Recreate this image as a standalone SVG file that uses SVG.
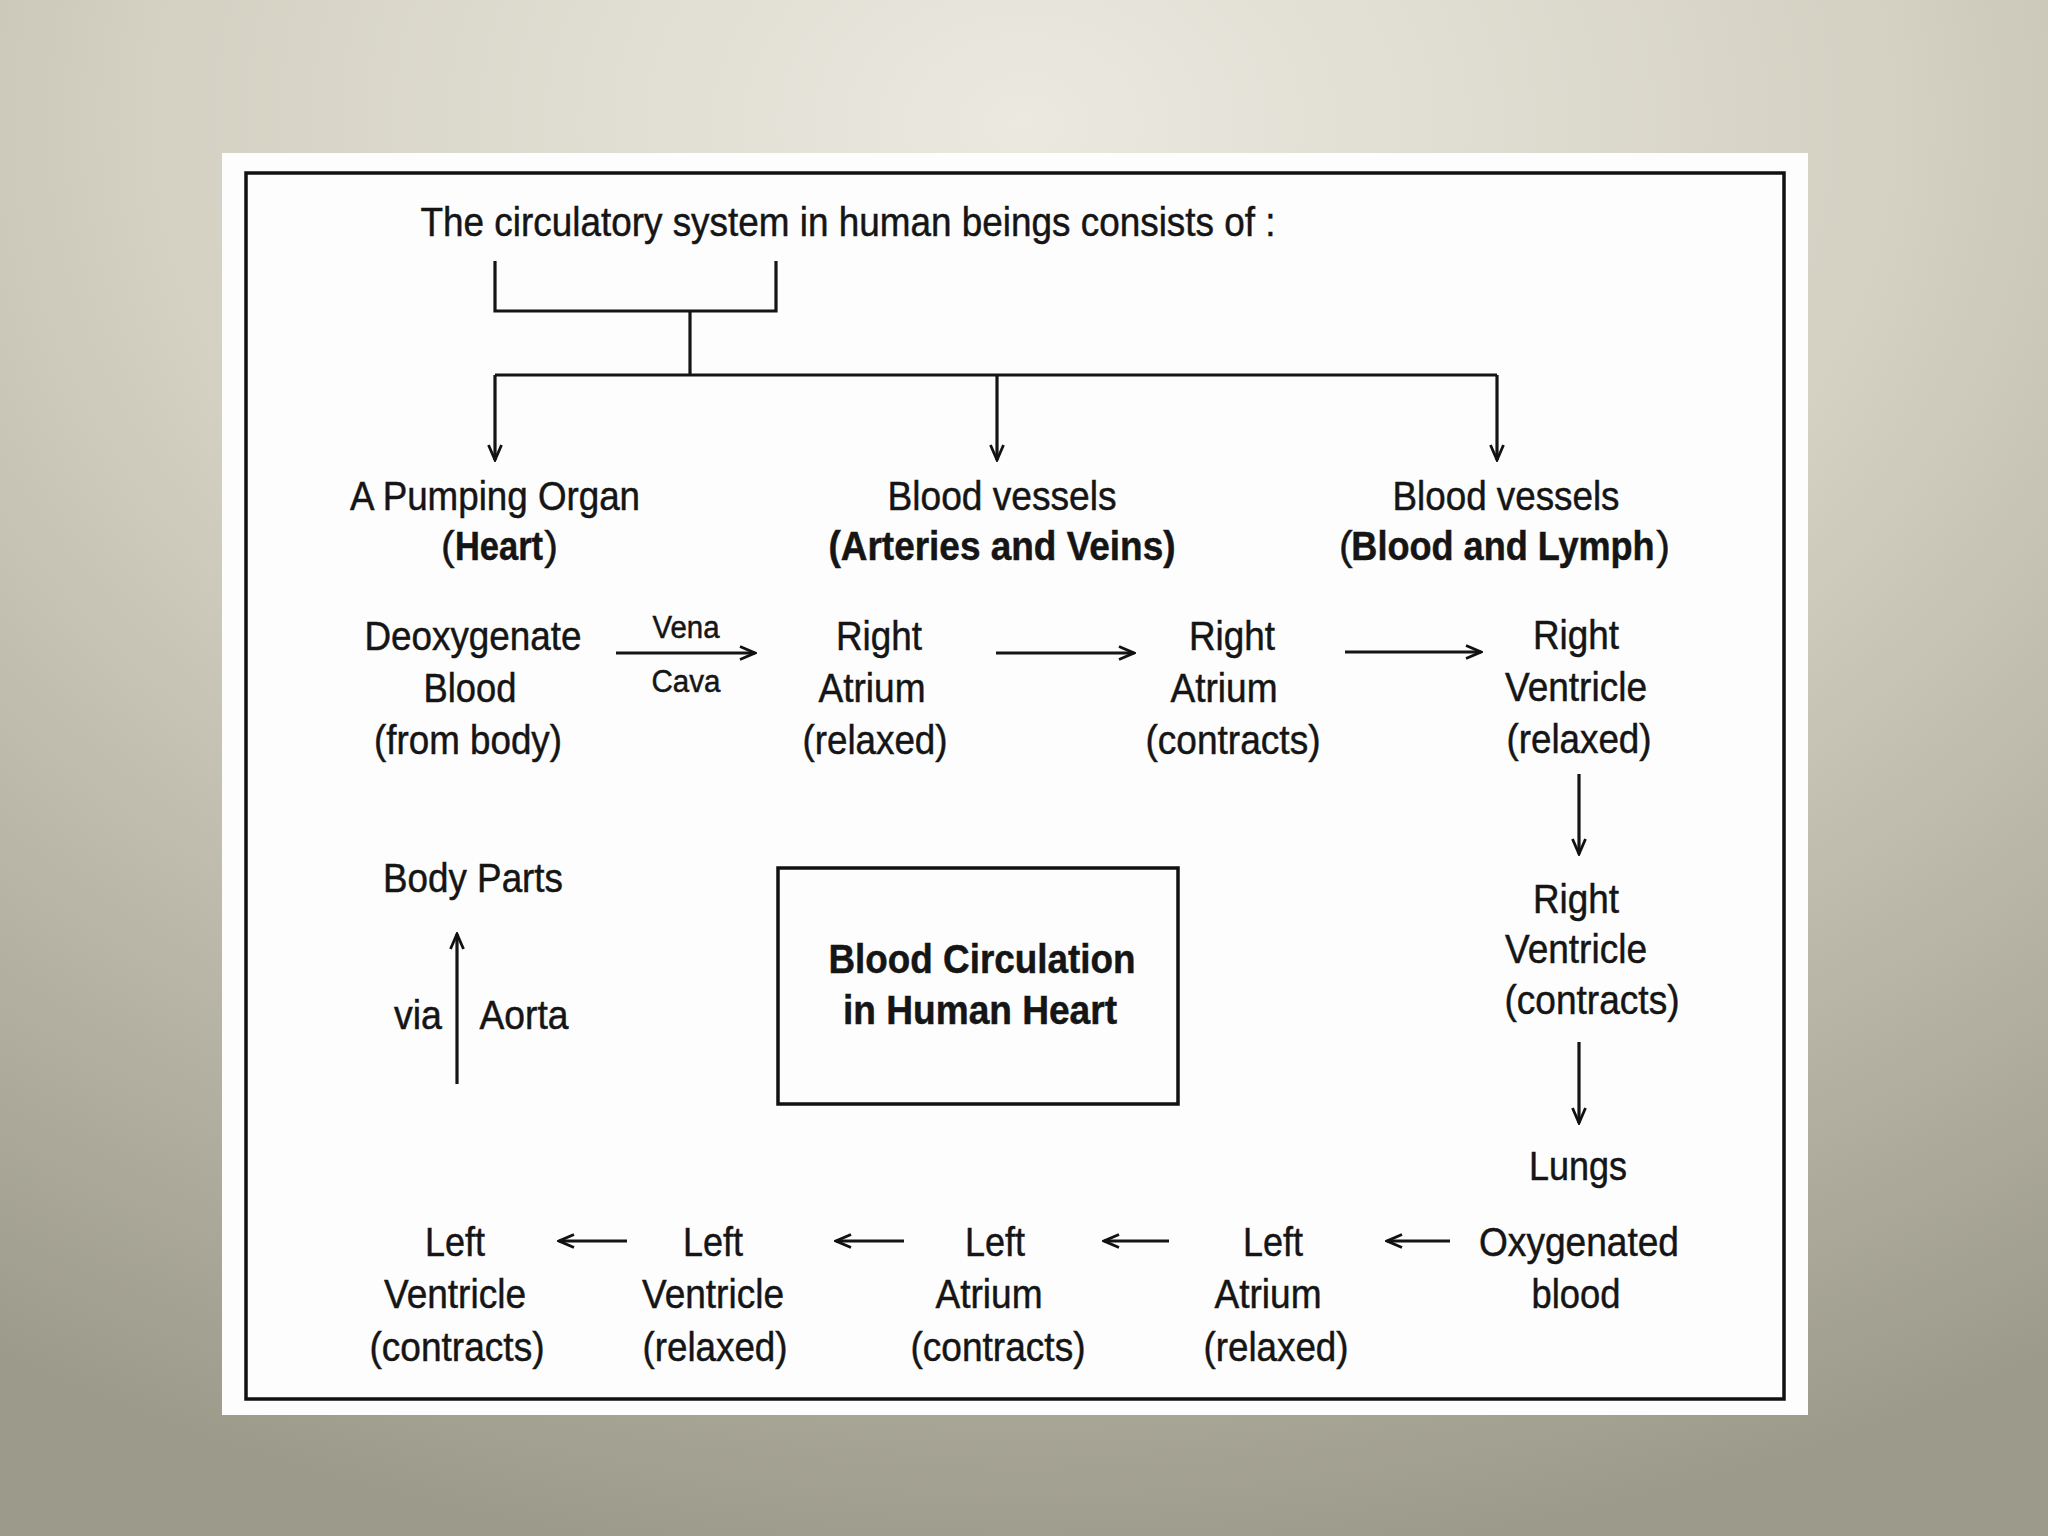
<svg xmlns="http://www.w3.org/2000/svg" width="2048" height="1536" viewBox="0 0 2048 1536">
<defs>
<radialGradient id="bg" cx="50%" cy="8%" r="95%" fx="50%" fy="8%">
<stop offset="0" stop-color="#ebe9e0"/>
<stop offset="0.45" stop-color="#d4d1c3"/>
<stop offset="1" stop-color="#9c9a8b"/>
</radialGradient>
<marker id="ah" markerWidth="18" markerHeight="16" refX="16" refY="8" orient="auto" markerUnits="userSpaceOnUse">
<path d="M1,1.5 L16,8 L1,14.5" fill="none" stroke="#111" stroke-width="2.8"/>
</marker>
<style>
text{font-family:"Liberation Sans",Arial,sans-serif;font-size:41px;fill:#151515;stroke:#151515;stroke-width:0.5;text-anchor:middle}
.b{font-weight:bold}
.st{text-anchor:start}
.en{text-anchor:end}
.sm{font-size:31px}
.ln{stroke:#151515;stroke-width:3.2;fill:none}
.ar{stroke:#151515;stroke-width:3.2;fill:none;marker-end:url(#ah)}
</style>
</defs>
<rect width="2048" height="1536" fill="url(#bg)"/>
<rect x="222" y="153" width="1586" height="1262" fill="#fdfdfd"/>
<rect x="246" y="173" width="1538" height="1226" fill="none" stroke="#111" stroke-width="3.5"/>

<g id="connectors">
<path class="ln" d="M495,261 V311 H776 V261"/>
<path class="ln" d="M690,311 V375"/>
<path class="ln" d="M495,375 H1497"/>
<path class="ar" d="M495,375 V460"/>
<path class="ar" d="M997,375 V460"/>
<path class="ar" d="M1497,375 V460"/>
<path class="ar" d="M616,653 H755"/>
<path class="ar" d="M996,653 H1134"/>
<path class="ar" d="M1345,652 H1481"/>
<path class="ar" d="M1579,774 V854"/>
<path class="ar" d="M1579,1042 V1123"/>
<path class="ar" d="M1450,1241 H1387"/>
<path class="ar" d="M1169,1241 H1104"/>
<path class="ar" d="M904,1241 H836"/>
<path class="ar" d="M627,1241 H559"/>
<path class="ar" d="M457,1084 V934"/>
</g>

<g id="title"><text x="848" y="236" textLength="855" lengthAdjust="spacingAndGlyphs">The circulatory system in human beings consists of :</text></g>

<g id="pumping-organ">
<text x="495" y="510" textLength="290" lengthAdjust="spacingAndGlyphs">A Pumping Organ</text>
<text x="441" y="560" class="st">(</text>
<text transform="translate(499,560) scale(0.84,1)" x="0" y="0" class="b">Heart</text>
<text x="558" y="560" class="en">)</text>
</g>
<g id="arteries-veins">
<text x="1002" y="510" textLength="229" lengthAdjust="spacingAndGlyphs">Blood vessels</text>
<text x="1002" y="560" class="b" textLength="347" lengthAdjust="spacingAndGlyphs">(Arteries and Veins)</text>
</g>
<g id="blood-lymph">
<text x="1506" y="510" textLength="227" lengthAdjust="spacingAndGlyphs">Blood vessels</text>
<text x="1339" y="560" class="st">(</text>
<text transform="translate(1503,560) scale(0.88,1)" x="0" y="0" class="b">Blood and Lymph</text>
<text x="1670" y="560" class="en">)</text>
</g>

<g id="deoxygenated-blood">
<text x="473" y="650" textLength="217" lengthAdjust="spacingAndGlyphs">Deoxygenate</text>
<text x="470" y="702" textLength="93" lengthAdjust="spacingAndGlyphs">Blood</text>
<text x="468" y="754" textLength="188" lengthAdjust="spacingAndGlyphs">(from body)</text>
</g>
<g id="vena-cava-label">
<text x="686" y="638" class="sm" textLength="67" lengthAdjust="spacingAndGlyphs">Vena</text>
<text x="686" y="692" class="sm" textLength="69" lengthAdjust="spacingAndGlyphs">Cava</text>
</g>
<g id="right-atrium-relaxed">
<text x="879" y="650" textLength="86" lengthAdjust="spacingAndGlyphs">Right</text>
<text x="872" y="702" textLength="107" lengthAdjust="spacingAndGlyphs">Atrium</text>
<text x="875" y="754" textLength="145" lengthAdjust="spacingAndGlyphs">(relaxed)</text>
</g>
<g id="right-atrium-contracts">
<text x="1232" y="650" textLength="86" lengthAdjust="spacingAndGlyphs">Right</text>
<text x="1224" y="702" textLength="107" lengthAdjust="spacingAndGlyphs">Atrium</text>
<text x="1233" y="754" textLength="175" lengthAdjust="spacingAndGlyphs">(contracts)</text>
</g>
<g id="right-ventricle-relaxed">
<text x="1576" y="649" textLength="86" lengthAdjust="spacingAndGlyphs">Right</text>
<text x="1576" y="701" textLength="142" lengthAdjust="spacingAndGlyphs">Ventricle</text>
<text x="1579" y="753" textLength="145" lengthAdjust="spacingAndGlyphs">(relaxed)</text>
</g>
<g id="right-ventricle-contracts">
<text x="1576" y="913" textLength="86" lengthAdjust="spacingAndGlyphs">Right</text>
<text x="1576" y="963" textLength="142" lengthAdjust="spacingAndGlyphs">Ventricle</text>
<text x="1592" y="1014" textLength="175" lengthAdjust="spacingAndGlyphs">(contracts)</text>
</g>
<g id="lungs">
<text x="1578" y="1180" textLength="98" lengthAdjust="spacingAndGlyphs">Lungs</text>
</g>
<g id="oxygenated-blood">
<text x="1579" y="1256" textLength="200" lengthAdjust="spacingAndGlyphs">Oxygenated</text>
<text x="1576" y="1308" textLength="89" lengthAdjust="spacingAndGlyphs">blood</text>
</g>
<g id="left-atrium-relaxed">
<text x="1273" y="1256" textLength="60" lengthAdjust="spacingAndGlyphs">Left</text>
<text x="1268" y="1308" textLength="107" lengthAdjust="spacingAndGlyphs">Atrium</text>
<text x="1276" y="1361" textLength="145" lengthAdjust="spacingAndGlyphs">(relaxed)</text>
</g>
<g id="left-atrium-contracts">
<text x="995" y="1256" textLength="60" lengthAdjust="spacingAndGlyphs">Left</text>
<text x="989" y="1308" textLength="107" lengthAdjust="spacingAndGlyphs">Atrium</text>
<text x="998" y="1361" textLength="175" lengthAdjust="spacingAndGlyphs">(contracts)</text>
</g>
<g id="left-ventricle-relaxed">
<text x="713" y="1256" textLength="60" lengthAdjust="spacingAndGlyphs">Left</text>
<text x="713" y="1308" textLength="142" lengthAdjust="spacingAndGlyphs">Ventricle</text>
<text x="715" y="1361" textLength="145" lengthAdjust="spacingAndGlyphs">(relaxed)</text>
</g>
<g id="left-ventricle-contracts">
<text x="455" y="1256" textLength="60" lengthAdjust="spacingAndGlyphs">Left</text>
<text x="455" y="1308" textLength="142" lengthAdjust="spacingAndGlyphs">Ventricle</text>
<text x="457" y="1361" textLength="175" lengthAdjust="spacingAndGlyphs">(contracts)</text>
</g>
<g id="body-parts">
<text x="473" y="892" textLength="180" lengthAdjust="spacingAndGlyphs">Body Parts</text>
</g>
<g id="aorta-label">
<text x="418" y="1029" textLength="48" lengthAdjust="spacingAndGlyphs">via</text>
<text x="524" y="1029" textLength="89" lengthAdjust="spacingAndGlyphs">Aorta</text>
</g>
<g id="center-box">
<rect x="778" y="868" width="400" height="236" fill="none" stroke="#111" stroke-width="3.5"/>
<text x="982" y="973" class="b" textLength="307" lengthAdjust="spacingAndGlyphs">Blood Circulation</text>
<text x="980" y="1024" class="b" textLength="274" lengthAdjust="spacingAndGlyphs">in Human Heart</text>
</g>
</svg>
